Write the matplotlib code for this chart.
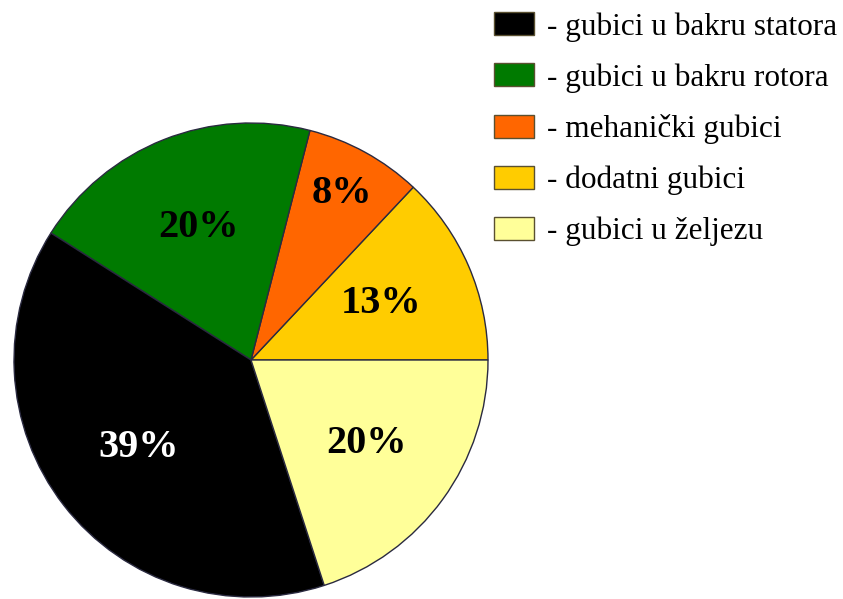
import matplotlib
matplotlib.use("Agg")
from matplotlib import pyplot as plt
import numpy as np

# Udio pojedinih gubitaka (pocinje od 0 stupnjeva, suprotno od kazaljke)
labels = ["- dodatni gubici", "- mehanički gubici", "- gubici u bakru rotora",
          "- gubici u bakru statora", "- gubici u željezu"]
values = [13, 8, 20, 39, 20]
colors = ["#FFCC00", "#FF6600", "#007A00", "#000000", "#FFFF99"]
text_colors = ["black", "black", "black", "white", "black"]
legend_order = [3, 2, 1, 0, 4]

plt.rcParams['font.family'] = ['Liberation Serif', 'DejaVu Serif']

fig = plt.figure(figsize=(8.43, 5.99), dpi=100)
ax = fig.add_axes([14 / 843, 2 / 599, 474 / 843, 474 / 599])

wedges, texts, autotexts = ax.pie(values, colors=colors, startangle=0, counterclock=True,
                                  autopct='%d%%', pctdistance=0.6,
                                  wedgeprops=dict(edgecolor='#2a2a40', linewidth=1.0))
ax.set_xlim(-1, 1)
ax.set_ylim(-1, 1)
ax.set_aspect('equal')

for i, t in enumerate(autotexts):
    t.set_color(text_colors[i])
    t.set_fontsize(29)
    t.set_fontweight('bold')

# The small slice label sits further out
w = wedges[1]
mid = np.deg2rad((w.theta1 + w.theta2) / 2)
autotexts[1].set_position((0.8 * np.cos(mid), 0.8 * np.sin(mid)))

leg = fig.legend([wedges[i] for i in legend_order], [labels[i] for i in legend_order],
                 loc='upper left', bbox_to_anchor=(494 / 843, 1 - 12 / 599),
                 frameon=False, fontsize=22.5, handlelength=1.28, handleheight=0.77,
                 handletextpad=0.42, labelspacing=0.69, borderpad=0, borderaxespad=0)
for h in leg.legend_handles:
    h.set_edgecolor('#5a5030')

fig.savefig("out.png", dpi=100)
